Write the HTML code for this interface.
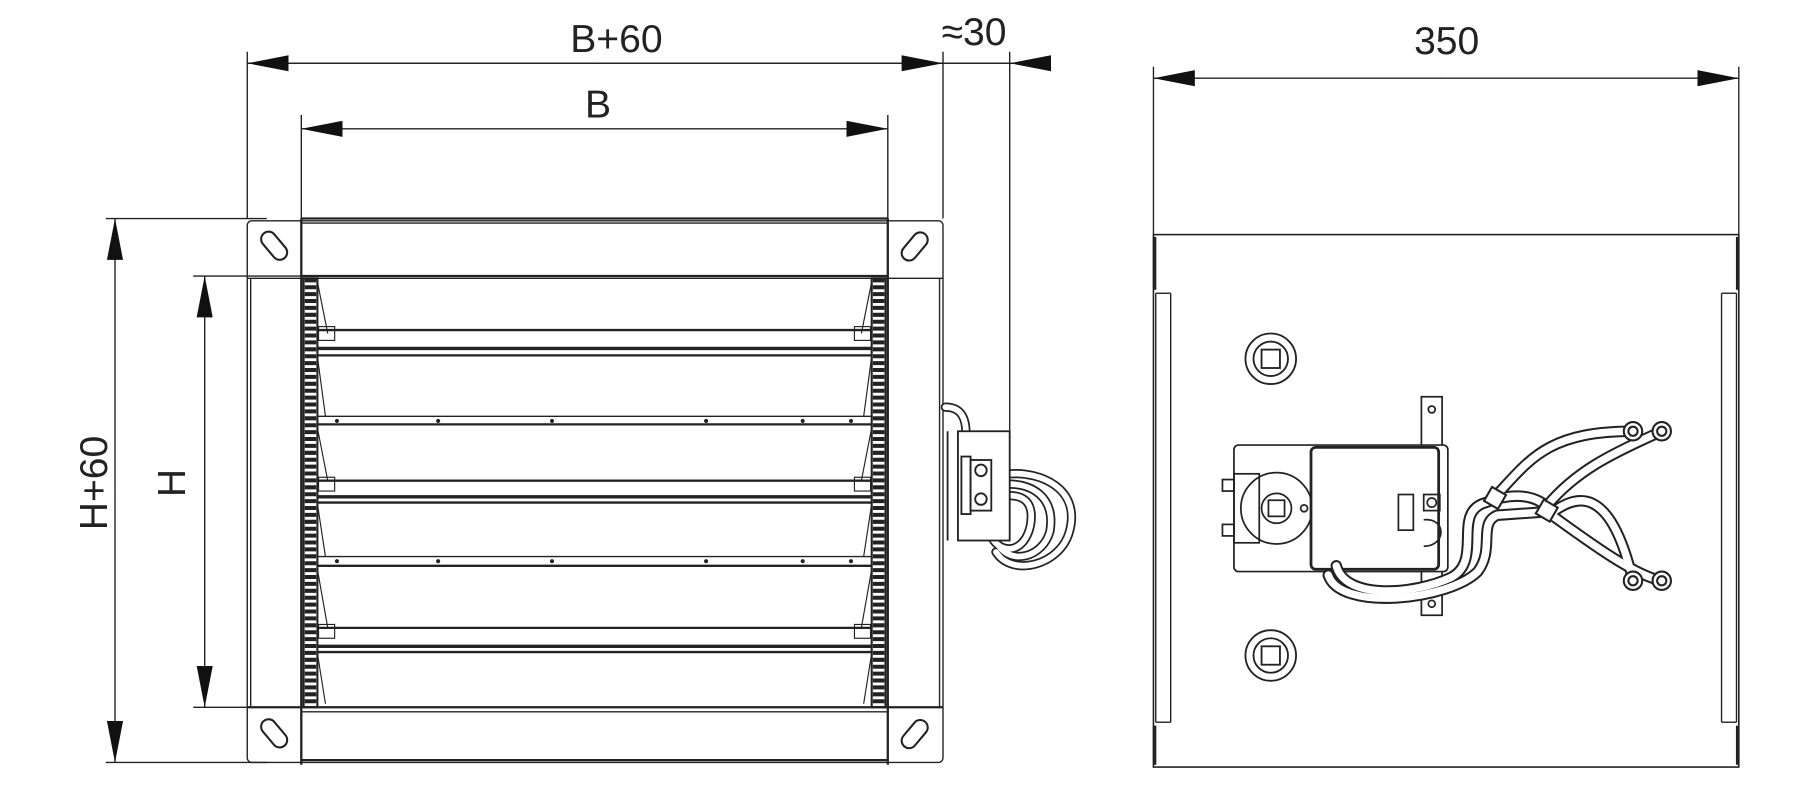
<!DOCTYPE html>
<html><head><meta charset="utf-8"><style>
html,body{margin:0;padding:0;background:#fff;}
svg{display:block}
text{font-family:"Liberation Sans",Arial,sans-serif;fill:#222;}
</style></head><body>
<svg width="1794" height="785" viewBox="0 0 1560 682.6" preserveAspectRatio="none" xmlns="http://www.w3.org/2000/svg">
<defs>
<marker id="a" viewBox="0 0 36 14" refX="36" refY="7" markerWidth="36" markerHeight="14" markerUnits="userSpaceOnUse" orient="auto"><path d="M0,0 L36,7 L0,14 Z" fill="#111"/></marker>
</defs>
<g stroke="#222" fill="none" stroke-width="1.2">
<line x1="215" y1="45" x2="215" y2="190"/>
<line x1="820" y1="45" x2="820" y2="190"/>
<line x1="878" y1="45" x2="878" y2="375"/>
<line x1="262" y1="100" x2="262" y2="190"/>
<line x1="772" y1="100" x2="772" y2="190"/>
<line x1="517" y1="55" x2="215" y2="55" marker-end="url(#a)"/>
<line x1="517" y1="55" x2="820" y2="55" marker-end="url(#a)"/>
<line x1="912" y1="55" x2="878" y2="55" marker-end="url(#a)"/>
<line x1="820" y1="55" x2="878" y2="55"/>
<line x1="517" y1="112" x2="262" y2="112" marker-end="url(#a)"/>
<line x1="517" y1="112" x2="772" y2="112" marker-end="url(#a)"/>
<line x1="92" y1="190" x2="232" y2="190"/>
<line x1="92" y1="663" x2="232" y2="663"/>
<line x1="168" y1="240" x2="262" y2="240"/>
<line x1="168" y1="615" x2="262" y2="615"/>
<line x1="100" y1="426" x2="100" y2="190" marker-end="url(#a)"/>
<line x1="100" y1="426" x2="100" y2="663" marker-end="url(#a)"/>
<line x1="178" y1="427" x2="178" y2="240" marker-end="url(#a)"/>
<line x1="178" y1="427" x2="178" y2="615" marker-end="url(#a)"/>
<rect x="215" y="192" width="605" height="471" rx="4"/>
<line x1="262" y1="190" x2="262" y2="665" stroke-width="2"/>
<line x1="772" y1="190" x2="772" y2="665" stroke-width="2"/>
<line x1="262" y1="190" x2="772" y2="190" stroke-width="2"/>
<line x1="262" y1="194" x2="772" y2="194"/>
<line x1="262" y1="240" x2="772" y2="240" stroke-width="2"/>
<line x1="215" y1="242" x2="820" y2="242"/>
<line x1="215" y1="615" x2="820" y2="615" stroke-width="2"/>
<line x1="262" y1="619" x2="772" y2="619"/>
<line x1="262" y1="661" x2="772" y2="661" stroke-width="2"/>
<line x1="218" y1="242" x2="218" y2="615"/>
<line x1="817" y1="242" x2="817" y2="615"/>
<g stroke-width="1.8">
<rect x="232" y="200" width="13" height="28" rx="6.5" transform="rotate(-40 238 214)"/>
<rect x="789" y="200" width="13" height="28" rx="6.5" transform="rotate(40 795 214)"/>
<rect x="232" y="624" width="13" height="28" rx="6.5" transform="rotate(-40 238 638)"/>
<rect x="789" y="624" width="13" height="28" rx="6.5" transform="rotate(40 795 638)"/>
</g>
<rect x="264" y="242" width="12" height="373" stroke-width="1.8"/>
<rect x="758" y="242" width="12" height="373" stroke-width="1.8"/>
<line x1="270" y1="242" x2="270" y2="615" stroke="#222" stroke-width="10" stroke-dasharray="3.5,2.5"/>
<line x1="764" y1="242" x2="764" y2="615" stroke="#222" stroke-width="10" stroke-dasharray="3.5,2.5"/>
<g stroke-width="2">
<line x1="276" y1="287" x2="758" y2="287"/>
<line x1="276" y1="303" x2="758" y2="303" stroke-width="3"/>
<line x1="276" y1="309" x2="758" y2="309"/>
<line x1="276" y1="362" x2="758" y2="362" stroke-width="1.2"/>
<line x1="276" y1="369" x2="758" y2="369"/>
<line x1="276" y1="418" x2="758" y2="418"/>
<line x1="276" y1="432" x2="758" y2="432" stroke-width="3"/>
<line x1="276" y1="437" x2="758" y2="437"/>
<line x1="276" y1="484" x2="758" y2="484" stroke-width="1.2"/>
<line x1="276" y1="492" x2="758" y2="492"/>
<line x1="276" y1="546" x2="758" y2="546"/>
<line x1="276" y1="562" x2="758" y2="562" stroke-width="3"/>
<line x1="276" y1="567" x2="758" y2="567"/>
</g>
<g stroke-width="1">
<path d="M276,245 L285,290 M758,245 L749,290 M276,310 L283,362 M758,310 L751,362 M276,372 L285,418 M758,372 L749,418 M276,438 L283,484 M758,438 L751,484 M276,495 L285,546 M758,495 L749,546 M276,568 L283,612 M758,568 L751,612"/>
<rect x="277" y="284" width="14" height="12"/><rect x="743" y="284" width="14" height="12"/>
<rect x="277" y="415" width="14" height="12"/><rect x="743" y="415" width="14" height="12"/>
<rect x="277" y="543" width="14" height="12"/><rect x="743" y="543" width="14" height="12"/>
</g>
<g fill="#222" stroke="none">
<circle cx="293" cy="366" r="1.8"/><circle cx="381" cy="366" r="1.8"/><circle cx="480" cy="366" r="1.8"/><circle cx="614" cy="366" r="1.8"/><circle cx="698" cy="366" r="1.8"/><circle cx="740" cy="366" r="1.8"/>
<circle cx="293" cy="488" r="1.8"/><circle cx="381" cy="488" r="1.8"/><circle cx="480" cy="488" r="1.8"/><circle cx="614" cy="488" r="1.8"/><circle cx="698" cy="488" r="1.8"/><circle cx="740" cy="488" r="1.8"/>
</g>
<g stroke="#222" stroke-width="8" stroke-linecap="round">
<path d="M878,412 C905,410 940,425 930,462 C922,492 880,502 866,480"/>
<path d="M878,421 C897,421 918,432 913,462 C907,484 880,492 868,474"/>
<path d="M878,431 C887,431 900,434 896,457 C891,480 873,482 864,470"/>
<path d="M822,354 C836,354 840,364 840,377"/>
</g>
<g stroke="#fff" stroke-width="5" stroke-linecap="round">
<path d="M878,412 C905,410 940,425 930,462 C922,492 880,502 866,480"/>
<path d="M878,421 C897,421 918,432 913,462 C907,484 880,492 868,474"/>
<path d="M878,431 C887,431 900,434 896,457 C891,480 873,482 864,470"/>
<path d="M822,354 C836,354 840,364 840,377"/>
</g>
<g stroke-width="1.6" fill="#fff">
<rect x="833" y="375" width="45" height="95"/>
<rect x="836" y="397" width="8" height="50"/>
<rect x="844" y="400" width="18" height="44"/>
<circle cx="853" cy="409" r="5"/><circle cx="853" cy="434" r="5"/>
</g>
<line x1="824" y1="375" x2="824" y2="470" stroke-width="1.6"/>
<line x1="1003" y1="58" x2="1003" y2="204"/>
<line x1="1512" y1="58" x2="1512" y2="204"/>
<line x1="1258" y1="68" x2="1003" y2="68" marker-end="url(#a)"/>
<line x1="1258" y1="68" x2="1512" y2="68" marker-end="url(#a)"/>
<rect x="1003" y="204" width="509" height="463" stroke-width="1.4"/>
<line x1="1005" y1="255" x2="1005" y2="628"/>
<line x1="1018" y1="255" x2="1018" y2="628"/>
<line x1="1005" y1="255" x2="1018" y2="255"/><line x1="1005" y1="628" x2="1018" y2="628"/>
<line x1="1510" y1="255" x2="1510" y2="628"/>
<line x1="1497" y1="255" x2="1497" y2="628"/>
<line x1="1497" y1="255" x2="1510" y2="255"/><line x1="1497" y1="628" x2="1510" y2="628"/>
<line x1="1004" y1="206" x2="1004" y2="252" stroke-width="3"/>
<line x1="1511" y1="206" x2="1511" y2="252" stroke-width="3"/>
<line x1="1004" y1="631" x2="1004" y2="665" stroke-width="3"/>
<line x1="1511" y1="631" x2="1511" y2="665" stroke-width="3"/>
<g stroke-width="1.6">
<circle cx="1105" cy="312" r="22"/><circle cx="1105" cy="312" r="15"/><rect x="1097" y="304" width="16" height="16"/>
<circle cx="1105" cy="570" r="22"/><circle cx="1105" cy="570" r="15"/><rect x="1097" y="562" width="16" height="16"/>
</g>
<g stroke-width="1.5">
<rect x="1236" y="345" width="18" height="190"/>
<circle cx="1245" cy="356" r="3"/><circle cx="1245" cy="525" r="3"/>
<rect x="1073" y="387" width="186" height="110" rx="4" fill="#fff"/>
<rect x="1063" y="417" width="10" height="10"/><rect x="1063" y="456" width="10" height="10"/>
<rect x="1073" y="412" width="22" height="60"/>
<circle cx="1110" cy="442" r="31"/>
<circle cx="1110" cy="442" r="13"/><rect x="1103" y="435" width="14" height="14"/>
<circle cx="1134" cy="442" r="3"/>
<rect x="1140" y="389" width="111" height="106" rx="4" stroke-width="2.4" fill="#fff"/>
<rect x="1216" y="430" width="13" height="31"/>
<rect x="1238" y="430" width="14" height="14"/><circle cx="1245" cy="437" r="4"/>
<path d="M1238,452 C1258,450 1258,475 1238,475"/>
</g>
<g stroke="#222" stroke-width="10" stroke-linecap="round">
<path d="M1162,492 C1170,522 1230,517 1262,502 C1290,487 1262,445 1292,437 C1310,430 1330,428 1345,440"/>
<path d="M1155,500 C1165,532 1260,522 1285,497 C1300,477 1285,455 1302,448 L1345,445"/>
<path d="M1300,432 C1330,400 1345,375 1420,375"/>
<path d="M1345,440 C1370,410 1400,395 1445,375"/>
<path d="M1348,447 C1380,470 1420,500 1445,505"/>
<path d="M1348,447 C1370,430 1400,420 1420,505"/>
</g>
<g stroke="#fff" stroke-width="6.5" stroke-linecap="round">
<path d="M1162,492 C1170,522 1230,517 1262,502 C1290,487 1262,445 1292,437 C1310,430 1330,428 1345,440"/>
<path d="M1155,500 C1165,532 1260,522 1285,497 C1300,477 1285,455 1302,448 L1345,445"/>
<path d="M1300,432 C1330,400 1345,375 1420,375"/>
<path d="M1345,440 C1370,410 1400,395 1445,375"/>
<path d="M1348,447 C1380,470 1420,500 1445,505"/>
<path d="M1348,447 C1370,430 1400,420 1420,505"/>
</g>
<g stroke-width="1.8" fill="#fff">
<circle cx="1420" cy="375" r="8"/><circle cx="1445" cy="375" r="8"/>
<circle cx="1420" cy="505" r="8"/><circle cx="1445" cy="505" r="8"/>
<circle cx="1420" cy="375" r="4"/><circle cx="1445" cy="375" r="4"/>
<circle cx="1420" cy="505" r="4"/><circle cx="1445" cy="505" r="4"/>
<rect x="1293" y="426" width="14" height="14" transform="rotate(30 1300 433)"/>
<rect x="1338" y="437" width="14" height="14" transform="rotate(30 1345 444)"/>
</g>
</g>
<text x="536" y="45" font-size="34" text-anchor="middle">B+60</text>
<text x="847" y="39" font-size="34" text-anchor="middle">≈30</text>
<text x="520" y="102" font-size="34" text-anchor="middle">B</text>
<text x="1258" y="47" font-size="34" text-anchor="middle">350</text>
<text transform="translate(93,420) rotate(-90)" font-size="34" text-anchor="middle">H+60</text>
<text transform="translate(161,420) rotate(-90)" font-size="34" text-anchor="middle">H</text>
</svg>
</body></html>
